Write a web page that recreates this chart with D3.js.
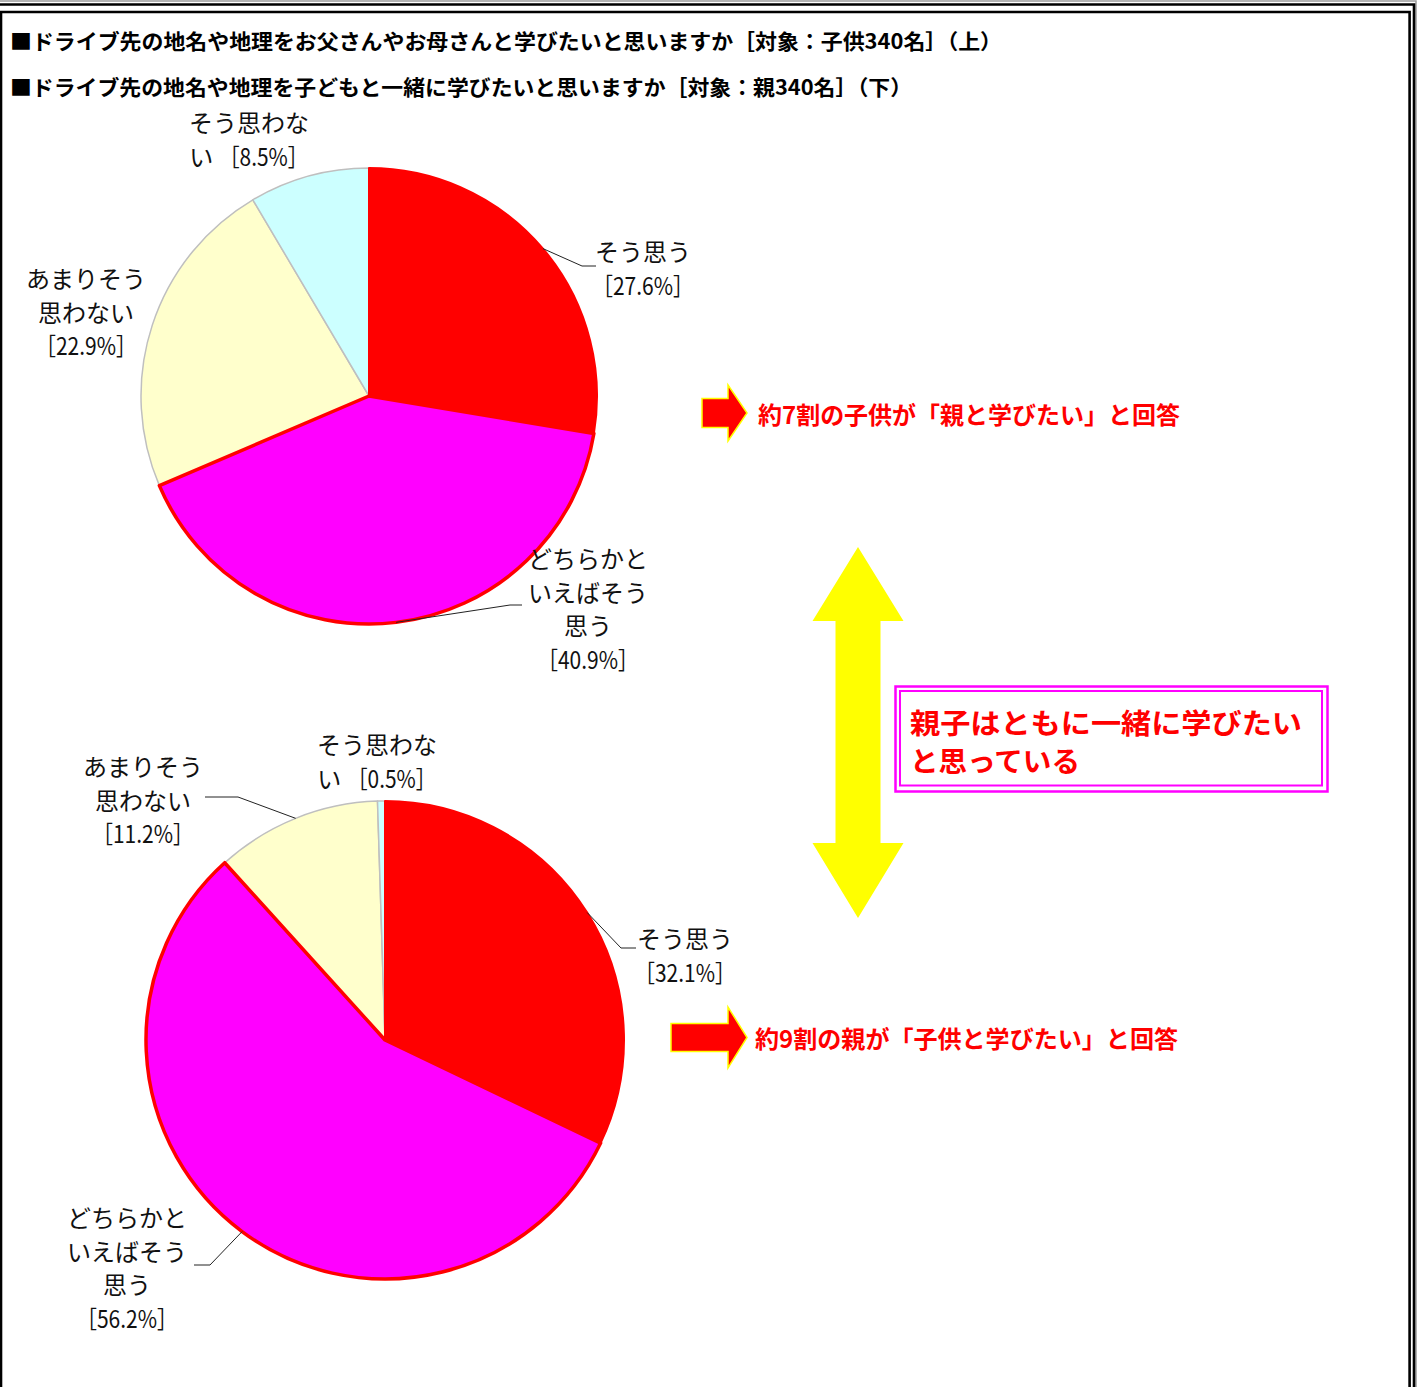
<!DOCTYPE html>
<html><head><meta charset="utf-8">
<script src="https://cdn.jsdelivr.net/npm/d3@7"></script>
<style>
html,body{margin:0;padding:0;background:#fff;}
svg{display:block;}
text{font-family:"Noto Sans CJK JP","Noto Sans",sans-serif;}
</style></head>
<body><svg id="c" width="1418" height="1387"></svg>
<script>
// ---- data ----
const categories = ["そう思う", "どちらかといえばそう思う", "あまりそう思わない", "そう思わない"];
const childValues = [27.6, 40.9, 22.9, 8.5];   // 子供340名 (上)
const parentValues = [32.1, 56.2, 11.2, 0.5];  // 親340名 (下)
const titles = [
  "■ドライブ先の地名や地理をお父さんやお母さんと学びたいと思いますか［対象：子供340名］（上）",
  "■ドライブ先の地名や地理を子どもと一緒に学びたいと思いますか［対象：親340名］（下）"
];
const noteTexts = ["約7割の子供が「親と学びたい」と回答", "約9割の親が「子供と学びたい」と回答"];
const boxLines = ["親子はともに一緒に学びたい", "と思っている"];

// ---- styling / layout ----
const sliceFill = ["#FF0000", "#FF00FF", "#FFFFCC", "#CCFFFF"];
const sliceStroke = ["#FF0000", "#FF0000", "#BFBFBF", "#BFBFBF"];
const sliceStrokeW = [2, 3.5, 1.5, 1.5];

const svg = d3.select("#c");

// frame
svg.append("path").attr("d", "M0,1H1416V1387").attr("fill", "none").attr("stroke", "#9a9a9a").attr("stroke-width", 1.5);
svg.append("path").attr("d", "M0,4.5H1414V1387").attr("fill", "none").attr("stroke", "#000").attr("stroke-width", 2.6);
svg.append("path").attr("d", "M1,1387V12H1409.6V1387").attr("fill", "none").attr("stroke", "#000").attr("stroke-width", 2.6);

// titles
const titleLayout = [{x: 10, y: 40, w: 992}, {x: 10, y: 86, w: 902}];
titles.forEach((t, i) => {
  svg.append("text").attr("x", titleLayout[i].x).attr("y", titleLayout[i].y)
    .attr("dominant-baseline", "central").attr("font-size", 21).attr("font-weight", "bold")
    .attr("textLength", titleLayout[i].w).attr("lengthAdjust", "spacingAndGlyphs")
    .attr("fill", "#000").text(t);
});

// pies
const pieLayouts = [
  {values: childValues, cx: 369, cy: 396, r: 228, labels: [
    {x: 643, y: 250, elbow: [582, 266], end: [596, 266]},
    {x: 588, y: 557, elbow: [510, 605], end: [522, 605]},
    {x: 86, y: 277},
    {x: 249, y: 121}
  ]},
  {values: parentValues, cx: 385, cy: 1040, r: 239, labels: [
    {x: 685, y: 937, elbow: [621, 948], end: [636, 948]},
    {x: 127, y: 1216, elbow: [210, 1265], end: [194, 1265]},
    {x: 143, y: 765, elbow: [238, 797], end: [205, 797]},
    {x: 377, y: 743}
  ]}
];

const pie = d3.pie().sort(null).value(d => d);
const lineH = 33.5;

function labelLines(name, v) {
  const chunks = [];
  for (let i = 0; i < name.length; i += 5) chunks.push(name.slice(i, i + 5));
  const pct = "［" + v.toFixed(1) + "%］";
  const last = chunks[chunks.length - 1];
  if (last.length === 1) { chunks.pop(); return chunks.map(c => ({pre: c})).concat([{pre: last + " ", pct}]); }
  return chunks.map(c => ({pre: c})).concat([{pre: "", pct}]);
}

pieLayouts.forEach(P => {
  const g = svg.append("g").attr("transform", `translate(${P.cx},${P.cy})`);
  const arcs = pie(P.values);
  const arc = d3.arc().innerRadius(0).outerRadius(P.r);
  const order = [2, 3, 0, 1];
  order.forEach(i => {
    g.append("path").attr("d", arc(arcs[i]))
      .attr("fill", sliceFill[i]).attr("stroke", sliceStroke[i])
      .attr("stroke-width", sliceStrokeW[i]).attr("stroke-linejoin", "round");
  });
  // labels + leaders
  arcs.forEach((a, i) => {
    const L = P.labels[i];
    if (L.elbow) {
      const m = (a.startAngle + a.endAngle) / 2;
      const px = P.cx + P.r * Math.sin(m), py = P.cy - P.r * Math.cos(m);
      svg.append("polyline")
        .attr("points", [[px, py], L.elbow, L.end].map(p => p.join(",")).join(" "))
        .attr("fill", "none").attr("stroke", "#222").attr("stroke-width", 1);
    }
    const lines = labelLines(categories[i], a.data);
    lines.forEach((ln, k) => {
      const t = svg.append("text").attr("x", L.x).attr("y", L.y + k * lineH)
        .attr("text-anchor", "middle").attr("dominant-baseline", "central")
        .attr("font-size", 24).attr("fill", "#111");
      if (ln.pre) t.append("tspan").text(ln.pre);
      if (ln.pct) t.append("tspan").attr("textLength", a.data < 10 ? 90 : 102)
        .attr("lengthAdjust", "spacingAndGlyphs").text(ln.pct);
    });
  });
});

// right block arrows with notes
function rightArrow(x0, xb, xt, cy, sh, hh) {
  return `M${x0},${cy - sh / 2}H${xb}V${cy - hh / 2}L${xt},${cy}L${xb},${cy + hh / 2}V${cy + sh / 2}H${x0}Z`;
}
const noteLayout = [
  {x0: 702, xb: 728, xt: 747, cy: 413, sh: 29, hh: 56, tx: 758, tw: 422},
  {x0: 671, xb: 728, xt: 747, cy: 1037.5, sh: 28, hh: 61, tx: 755, tw: 423}
];
noteLayout.forEach((N, i) => {
  svg.append("path").attr("d", rightArrow(N.x0, N.xb, N.xt, N.cy, N.sh, N.hh))
    .attr("fill", "#FF0000").attr("stroke", "#FFFF00").attr("stroke-width", 1.5);
  svg.append("text").attr("x", N.tx).attr("y", N.cy).attr("dominant-baseline", "central")
    .attr("font-size", 24).attr("font-weight", "bold").attr("fill", "#FF0000")
    .attr("textLength", N.tw).attr("lengthAdjust", "spacingAndGlyphs").text(noteTexts[i]);
});

// yellow double arrow
(function () {
  const cx = 858, top = 547, hb1 = 621, hb2 = 843, bot = 918, hw = 45.5, sw = 22.5;
  const d = `M${cx},${top}L${cx + hw},${hb1}H${cx + sw}V${hb2}H${cx + hw}L${cx},${bot}L${cx - hw},${hb2}H${cx - sw}V${hb1}H${cx - hw}Z`;
  svg.append("path").attr("d", d).attr("fill", "#FFFF00");
})();

// summary box
svg.append("rect").attr("x", 895.5).attr("y", 686.5).attr("width", 432).attr("height", 105)
  .attr("fill", "#fff").attr("stroke", "#FF00FF").attr("stroke-width", 2.5);
svg.append("rect").attr("x", 900).attr("y", 691).attr("width", 422).attr("height", 94.5)
  .attr("fill", "none").attr("stroke", "#FF00FF").attr("stroke-width", 2);
const boxLayout = [{y: 722, w: 392}, {y: 760, w: 170}];
boxLines.forEach((s, i) => {
  svg.append("text").attr("x", 910).attr("y", boxLayout[i].y).attr("dominant-baseline", "central")
    .attr("font-size", 28).attr("font-weight", "bold").attr("fill", "#FF0000")
    .attr("textLength", boxLayout[i].w).attr("lengthAdjust", "spacingAndGlyphs").text(s);
});
</script></body></html>
